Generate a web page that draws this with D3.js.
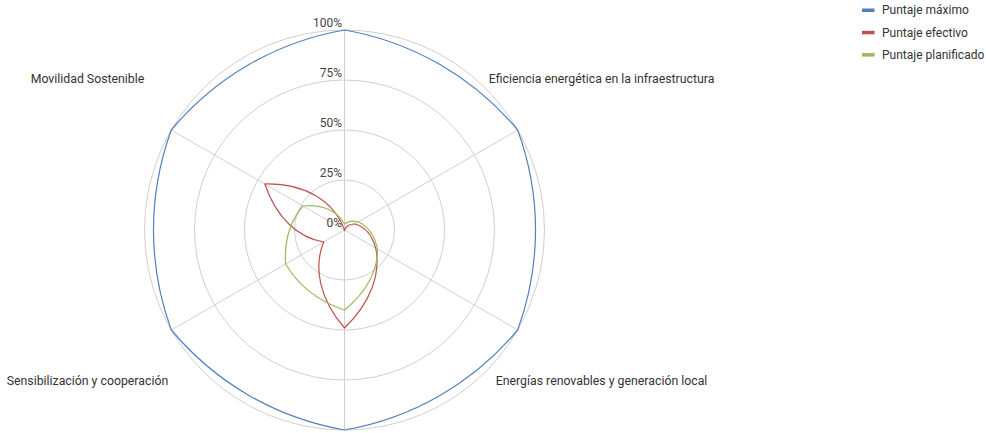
<!DOCTYPE html>
<html>
<head>
<meta charset="utf-8">
<script src="https://cdn.jsdelivr.net/npm/d3@7"></script>
<style>
  html, body { margin: 0; padding: 0; background: #fff; }
  svg { display: block; font-family: Roboto, "Noto Sans", sans-serif; }
</style>
</head>
<body>
<svg id="chart" width="986" height="433"></svg>
<script>
// Six assessment areas, clockwise from the top spoke
const categories = [
  "Planificación territorial",
  "Eficiencia energética en la infraestructura",
  "Energías renovables y generación local",
  "Organización interna",
  "Sensibilización y cooperación",
  "Movilidad Sostenible"
];
const seriesNames = ["Puntaje máximo", "Puntaje efectivo", "Puntaje planificado"];
const maximo      = [100, 100, 100, 100, 100, 100];
const efectivo    = [0, 6, 18, 49, 12, 46];
const planificado = [3, 8, 19, 40, 34, 24];
const tickValues  = [0, 25, 50, 75, 100];
const tickLabels  = ["0%", "25%", "50%", "75%", "100%"];
const colors      = ["#4F81BD", "#C0504D", "#9BBB59"];

const W = 986, H = 433;
const svg = d3.select("#chart");
const cx = 344.5, cy = 230, R = 200;
const g = svg.append("g").attr("transform", `translate(${cx},${cy})`);

const r = d3.scaleLinear().domain([0, 100]).range([0, R]);
const angle = d3.scaleLinear().domain([0, categories.length]).range([0, 2 * Math.PI]);
const toXY = (a, rad) => [rad * Math.sin(a), -rad * Math.cos(a)];

// Circular grid rings
g.selectAll("circle.ring")
  .data(tickValues.filter(v => v > 0))
  .join("circle")
  .attr("class", "ring")
  .attr("r", d => r(d))
  .attr("fill", "none")
  .attr("stroke", "#d0d0d0")
  .attr("stroke-width", 1);

// Spokes
g.selectAll("line.spoke")
  .data(categories)
  .join("line")
  .attr("class", "spoke")
  .attr("x1", 0).attr("y1", 0)
  .attr("x2", (d, i) => toXY(angle(i), r(100))[0])
  .attr("y2", (d, i) => toXY(angle(i), r(100))[1])
  .attr("stroke", "#d0d0d0")
  .attr("stroke-width", 1);

// Value ticks along the top spoke
g.selectAll("text.tick")
  .data(tickValues)
  .join("text")
  .attr("class", "tick")
  .attr("x", -2.5)
  .attr("y", d => -r(d) - 3)
  .attr("text-anchor", "end")
  .attr("font-size", 12)
  .attr("fill", "#444")
  .text((d, i) => tickLabels[i]);

// Category labels, centred on each spoke beyond the plot;
// labels whose position falls outside the canvas are skipped.
const labelPos = categories.map((d, i) => {
  const x = toXY(angle(i), r(148.4))[0];
  const y = toXY(angle(i), r(151))[1];
  return { name: d, x, y };
}).filter(p => p.y + cy > 8 && p.y + cy < H - 8);

g.selectAll("text.cat")
  .data(labelPos)
  .join("text")
  .attr("class", "cat")
  .attr("x", d => d.x)
  .attr("y", d => d.y)
  .attr("dy", "0.35em")
  .attr("text-anchor", "middle")
  .attr("font-size", 12.3)
  .attr("fill", "#333")
  .text(d => d.name);

// Closed radar path: each segment is a cubic whose control points are
// interpolated in (angle, radius) space, giving the bowed petal shape.
function radarPath(values) {
  const p = d3.path();
  const n = values.length;
  const start = toXY(angle(0), r(values[0]));
  p.moveTo(start[0], start[1]);
  for (let i = 0; i < n; i++) {
    const a0 = angle(i), a1 = angle(i + 1);
    const v0 = values[i], v1 = values[(i + 1) % n];
    const c1 = toXY(a0 + (a1 - a0) / 3, r(v0 + (v1 - v0) / 3));
    const c2 = toXY(a0 + 2 * (a1 - a0) / 3, r(v0 + 2 * (v1 - v0) / 3));
    const e = toXY(a1, r(v1));
    p.bezierCurveTo(c1[0], c1[1], c2[0], c2[1], e[0], e[1]);
  }
  p.closePath();
  return p.toString();
}

const allSeries = [maximo, efectivo, planificado];
g.selectAll("path.series")
  .data(allSeries)
  .join("path")
  .attr("class", "series")
  .attr("d", d => radarPath(d))
  .attr("fill", "none")
  .attr("stroke", (d, i) => colors[i])
  .attr("stroke-width", 1.2)
  .attr("stroke-linejoin", "miter");

// Legend
const legend = svg.append("g").attr("transform", "translate(862,10)");
const items = legend.selectAll("g.item")
  .data(seriesNames)
  .join("g")
  .attr("class", "item")
  .attr("transform", (d, i) => `translate(0,${i * 22.3})`);
items.append("rect")
  .attr("x", 0).attr("y", -1.5)
  .attr("width", 12.5).attr("height", 3.5)
  .attr("fill", (d, i) => colors[i]);
items.append("text")
  .attr("x", 20)
  .attr("y", 0)
  .attr("dy", "0.35em")
  .attr("font-size", 12)
  .attr("fill", "#333")
  .text(d => d);
</script>
</body>
</html>
